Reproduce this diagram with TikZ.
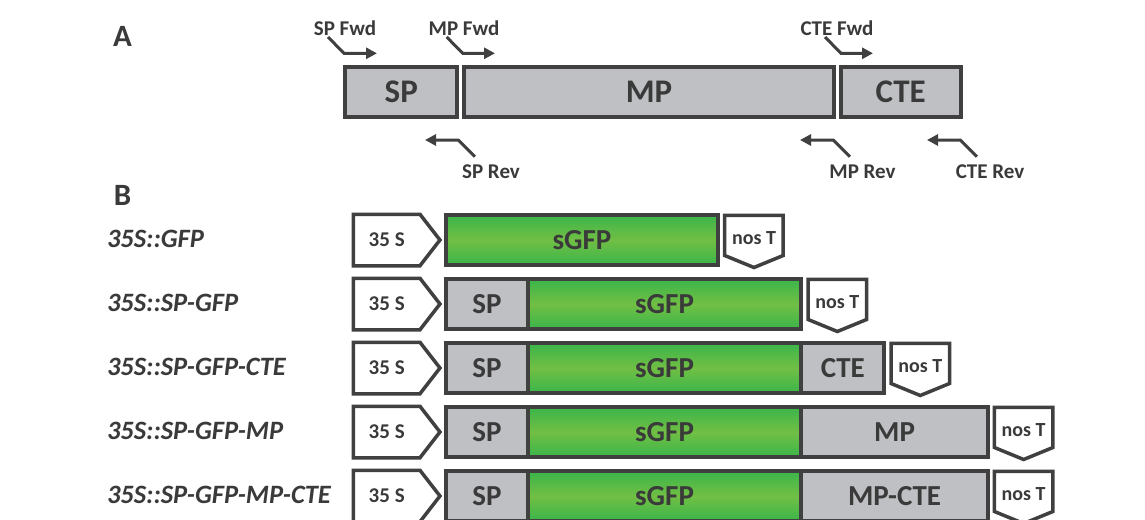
\documentclass[tikz,border=0pt]{standalone}
\usepackage{fontspec}
\setmainfont{Carlito}
\usetikzlibrary{arrows.meta}
\definecolor{edge}{RGB}{64,64,64}
\definecolor{ink}{RGB}{58,58,58}
\definecolor{greybox}{RGB}{191,192,195}
\definecolor{gfpdark}{RGB}{59,181,74}
\definecolor{gfplight}{RGB}{113,191,68}
\begin{document}
\begin{tikzpicture}[x=1pt, y=-1pt, inner sep=0pt, outer sep=0pt,
  region/.style={draw=edge, line width=4pt, fill=greybox, text=ink, font=\bfseries\fontsize{33}{33}\selectfont, minimum height=50pt},
  part/.style={draw=edge, line width=4pt, fill=greybox, text=ink, font=\bfseries\fontsize{29}{29}\selectfont, minimum height=49.4pt, anchor=west},
  gfp/.style={part, top color=gfpdark, bottom color=gfpdark, middle color=gfplight},
  promoter/.style={text=ink, font=\bfseries\fontsize{21}{21}\selectfont, minimum width=66.5pt, minimum height=51.5pt},
  terminator/.style={text=ink, font=\bfseries\fontsize{20}{20}\selectfont, minimum width=58.5pt, minimum height=40.2pt, text height=19pt, anchor=north west},
  outline/.style={draw=edge, line width=3.5pt},
  primer/.style={draw=edge, line width=3pt, -{Triangle[length=11pt, width=11pt]}},
  tag/.style={text=ink, font=\bfseries\fontsize{21}{21}\selectfont, anchor=base},
  construct/.style={text=ink, font=\bfseries\itshape\fontsize{26.5}{26.5}\selectfont, anchor=base west},
  panel/.style={text=ink, font=\bfseries\fontsize{31}{31}\selectfont, anchor=base}]
\path[use as bounding box, fill=white] (0,0) rectangle (1145,519);

% panel A: gene regions and primers
\node[panel] (a) at (122.5,47) {A};
\node[region, minimum width=112pt] (sp) at (401.3,92) {SP};
\node[region, minimum width=370pt, anchor=west] (mp) at ([xshift=6.7pt]sp.east) {MP};
\node[region, minimum width=120pt, anchor=west] (cte) at ([xshift=6.7pt]mp.east) {CTE};
\node[tag] (spfwd) at (345,36) {SP Fwd};
\node[tag] (mpfwd) at (464,36) {MP Fwd};
\node[tag] (ctefwd) at (837,36) {CTE Fwd};
\node[tag] (sprev) at (491,178) {SP Rev};
\node[tag] (mprev) at (862.5,178) {MP Rev};
\node[tag] (cterev) at (990,178) {CTE Rev};
\coordinate (spfwd0) at (328,37);
\coordinate (spfwd1) at (377,53.3);
\coordinate (mpfwd0) at (446.7,37);
\coordinate (mpfwd1) at (495,53.3);
\coordinate (ctefwd0) at (825,37);
\coordinate (ctefwd1) at (873,53.3);
\coordinate (sprev0) at (475,156.7);
\coordinate (sprev1) at (425,140);
\coordinate (mprev0) at (850,156.7);
\coordinate (mprev1) at (800,140);
\coordinate (cterev0) at (977,156.7);
\coordinate (cterev1) at (927,140);
\draw[primer] (spfwd0) -- ++(16,16.3) -- (spfwd1);
\draw[primer] (mpfwd0) -- ++(16,16.3) -- (mpfwd1);
\draw[primer] (ctefwd0) -- ++(16,16.3) -- (ctefwd1);
\draw[primer] (sprev0) -- ++(-16.7,-16.7) -- (sprev1);
\draw[primer] (mprev0) -- ++(-16.7,-16.7) -- (mprev1);
\draw[primer] (cterev0) -- ++(-16.7,-16.7) -- (cterev1);

% panel B: constructs
\node[panel] (b) at (122.5,205.5) {B};
\node[construct] (c1) at (107,247.5) {35S::GFP};
\node[construct] (c2) at (107,311.5) {35S::SP-GFP};
\node[construct] (c3) at (107,375.5) {35S::SP-GFP-CTE};
\node[construct] (c4) at (107,439.5) {35S::SP-GFP-MP};
\node[construct] (c5) at (107,503.5) {35S::SP-GFP-MP-CTE};

% row 1
\node[promoter] (pro1) at (386.7,240) {35 S};
\node[gfp, minimum width=272pt] (gfp1) at (446,240) {sGFP};
\node[terminator] (nos1) at ([xshift=6.7pt]gfp1.north east) {nos T};
% row 2
\node[promoter] (pro2) at (386.7,304) {35 S};
\node[part, minimum width=81.7pt] (sp2) at (446,304) {SP};
\node[gfp, minimum width=273.7pt] (gfp2) at (sp2.east) {sGFP};
\node[terminator] (nos2) at ([xshift=6.7pt]gfp2.north east) {nos T};
% row 3
\node[promoter] (pro3) at (386.7,368) {35 S};
\node[part, minimum width=81.7pt] (sp3) at (446,368) {SP};
\node[gfp, minimum width=273.7pt] (gfp3) at (sp3.east) {sGFP};
\node[part, minimum width=82.9pt] (cte3) at (gfp3.east) {CTE};
\node[terminator] (nos3) at ([xshift=6.7pt]cte3.north east) {nos T};
% row 4
\node[promoter] (pro4) at (386.7,432) {35 S};
\node[part, minimum width=81.7pt] (sp4) at (446,432) {SP};
\node[gfp, minimum width=273.7pt] (gfp4) at (sp4.east) {sGFP};
\node[part, minimum width=186.3pt] (mp4) at (gfp4.east) {MP};
\node[terminator] (nos4) at ([xshift=6.7pt]mp4.north east) {nos T};
% row 5
\node[promoter] (pro5) at (386.7,496) {35 S};
\node[part, minimum width=81.7pt] (sp5) at (446,496) {SP};
\node[gfp, minimum width=273.7pt] (gfp5) at (sp5.east) {sGFP};
\node[part, minimum width=186.3pt] (mpcte5) at (gfp5.east) {MP-CTE};
\node[terminator] (nos5) at ([xshift=6.7pt]mpcte5.north east) {nos T};

% promoter and terminator outlines
\draw[outline] (pro1.north west) -- (pro1.north east) -- ([xshift=20pt]pro1.east) -- (pro1.south east) -- (pro1.south west) -- cycle;
\draw[outline] (pro2.north west) -- (pro2.north east) -- ([xshift=20pt]pro2.east) -- (pro2.south east) -- (pro2.south west) -- cycle;
\draw[outline] (pro3.north west) -- (pro3.north east) -- ([xshift=20pt]pro3.east) -- (pro3.south east) -- (pro3.south west) -- cycle;
\draw[outline] (pro4.north west) -- (pro4.north east) -- ([xshift=20pt]pro4.east) -- (pro4.south east) -- (pro4.south west) -- cycle;
\draw[outline] (pro5.north west) -- (pro5.north east) -- ([xshift=20pt]pro5.east) -- (pro5.south east) -- (pro5.south west) -- cycle;
\draw[outline] (nos1.north west) -- (nos1.north east) -- (nos1.south east) -- ([yshift=-12pt]nos1.south) -- (nos1.south west) -- cycle;
\draw[outline] (nos2.north west) -- (nos2.north east) -- (nos2.south east) -- ([yshift=-12pt]nos2.south) -- (nos2.south west) -- cycle;
\draw[outline] (nos3.north west) -- (nos3.north east) -- (nos3.south east) -- ([yshift=-12pt]nos3.south) -- (nos3.south west) -- cycle;
\draw[outline] (nos4.north west) -- (nos4.north east) -- (nos4.south east) -- ([yshift=-12pt]nos4.south) -- (nos4.south west) -- cycle;
\draw[outline] (nos5.north west) -- (nos5.north east) -- (nos5.south east) -- ([yshift=-12pt]nos5.south) -- (nos5.south west) -- cycle;
\end{tikzpicture}
\end{document}
